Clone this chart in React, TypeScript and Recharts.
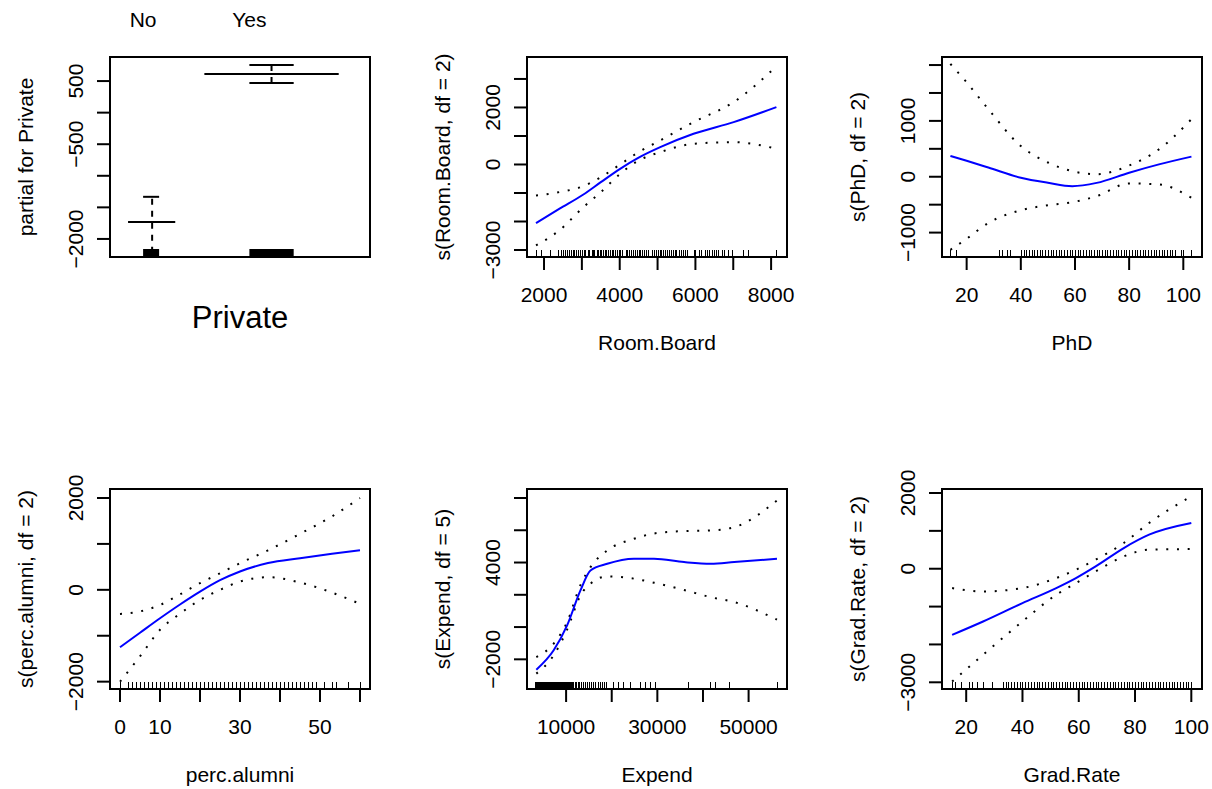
import React from "react";
import { ComposedChart, Line, Scatter, XAxis, YAxis, ReferenceArea } from "recharts";

const FONT = '"Liberation Sans", Arial, Helvetica, sans-serif';
const BLUE = "#0000FF";

// ---- Private (factor term) ----
const privLevels = ["No", "Yes"];
const privLevelPos = [0.135, 0.631];
const privLabelPos = [0.0975, 0.539];
const privFit = [-1730, 611];
const privUpper = [-1333, 754];
const privLower = [-2600, 468];
const privFitSpan = [[0.035, 0.231], [0.352, 0.91]];
const privSeSpan = [[0.0975, 0.164], [0.539, 0.723]];
const privYTicks = [-2000, -1500, -1000, -500, 0, 500];
const privYLabels = [-2000, -500, 500];

// ---- Room.Board ----
const rbX = [1788, 2400, 3040, 3500, 4010, 4500, 5070, 5950, 7010, 8140];
const rbFit = [-2060, -1560, -1053, -620, -152, 240, 608, 1076, 1486, 2012];
const rbUpper = [-1090, -970, -760, -445, 0, 433, 842, 1486, 2187, 3440];
const rbLower = [-2840, -2316, -1497, -971, -327, 140, 433, 725, 784, 550];
const rbRug = [1780, 1920, 2170, 2370, 2460, 2510, 2550, 2610, 2660, 2700, 2760, 2800, 2850, 2910, 2950, 3000, 3060, 3090, 3150, 3200, 3260, 3300, 3330, 3390, 3420, 3470, 3500, 3560, 3600, 3640, 3700, 3740, 3790, 3830, 3880, 3920, 3970, 4000, 4050, 4160, 4200, 4240, 4300, 4350, 4400, 4460, 4500, 4540, 4600, 4650, 4700, 4740, 4860, 4900, 4950, 5000, 5060, 5100, 5150, 5200, 5250, 5310, 5350, 5400, 5450, 5500, 5560, 5620, 5680, 5720, 5780, 5960, 6000, 6100, 6150, 6250, 6300, 6350, 6450, 6500, 6550, 6600, 6700, 6750, 6850, 6970, 7270, 7400, 8120];
const rbXTicks = [2000, 3000, 4000, 5000, 6000, 7000, 8000];
const rbXLabels = [2000, 4000, 6000, 8000];
const rbYTicks = [-3000, -2000, -1000, 0, 1000, 2000, 3000];
const rbYLabels = [-3000, 0, 2000];

// ---- PhD ----
const phdX = [14, 20, 28, 40, 50, 59, 68, 80, 91, 103];
const phdFit = [371, 285, 165, -18, -108, -169, -110, 72, 221, 360];
const phdUpper = [2020, 1690, 1210, 550, 255, 100, 45, 200, 490, 1030];
const phdLower = [-1308, -1110, -828, -600, -510, -456, -348, -120, -138, -378];
const phdRug = [14, 16, 32, 33, 35, 36, 40, 41, 42, 43, 44, 45, 46, 47, 48, 49, 50, 51, 52, 53, 54, 55, 56, 57, 58, 59, 60, 61, 62, 63, 64, 65, 66, 67, 68, 69, 70, 71, 72, 73, 74, 75, 76, 77, 78, 79, 80, 81, 82, 83, 84, 85, 86, 87, 88, 89, 90, 91, 92, 93, 94, 95, 96, 97, 99, 100, 103];
const phdXTicks = [20, 40, 60, 80, 100];
const phdYTicks = [-1000, -500, 0, 500, 1000, 1500, 2000];
const phdYLabels = [-1000, 0, 1000];

// ---- perc.alumni ----
const paX = [0, 5, 10, 15, 20, 25, 30, 37, 45, 53, 60];
const paFit = [-1250, -935, -620, -320, -40, 210, 400, 585, 690, 785, 860];
const paUpper = [-525, -470, -330, -100, 145, 360, 580, 860, 1220, 1600, 2000];
const paLower = [-2000, -1450, -870, -520, -220, 0, 180, 275, 160, -60, -305];
const paRug = [0, 2, 3, 4, 5, 6, 7, 8, 9, 10, 11, 12, 13, 14, 15, 16, 17, 18, 19, 20, 21, 22, 23, 24, 25, 26, 27, 28, 29, 30, 31, 32, 33, 34, 35, 36, 37, 38, 39, 40, 41, 42, 43, 44, 45, 46, 47, 48, 49, 51, 53, 54, 57, 60];
const paXTicks = [0, 10, 20, 30, 40, 50, 60];
const paXLabels = [0, 10, 30, 50];
const paYTicks = [-2000, -1000, 0, 1000, 2000];
const paYLabels = [-2000, 0, 2000];

// ---- Expend ----
const exX = [3473, 7275, 10220, 13143, 15341, 19011, 24862, 29260, 35853, 41714, 46842, 56220];
const exFit = [-2640, -1440, 105, 2270, 3510, 3920, 4235, 4235, 4025, 3920, 4025, 4235];
const exUpper = [-1860, -1030, 310, 2600, 3715, 4750, 5470, 5800, 5950, 5990, 6190, 7850];
const exLower = [-2885, -1750, -160, 1960, 2690, 3140, 3000, 2750, 2300, 1850, 1550, 460];
const exRug = [3186, 3350, 3500, 3700, 3900, 4050, 4200, 4350, 4500, 4650, 4800, 4950, 5100, 5250, 5400, 5550, 5700, 5850, 6000, 6150, 6300, 6450, 6600, 6750, 6900, 7050, 7200, 7350, 7500, 7650, 7800, 7950, 8100, 8250, 8400, 8550, 8700, 8850, 9000, 9200, 9400, 9600, 9800, 10000, 10200, 10400, 10600, 10800, 11000, 11300, 11600, 11900, 12200, 12500, 12900, 13300, 13700, 14100, 14600, 15000, 15500, 16000, 16400, 17000, 17500, 17900, 18300, 18700, 20330, 21430, 22530, 23990, 26190, 27290, 28390, 29490, 36810, 41580, 42670, 45600, 56230];
const exXTicks = [10000, 20000, 30000, 40000, 50000];
const exXLabels = [10000, 30000, 50000];
const exYTicks = [-2000, 0, 2000, 4000, 6000, 8000];
const exYLabels = [-2000, 4000];

// ---- Grad.Rate ----
const grX = [15, 26, 40, 52, 59, 66, 76, 85, 100];
const grFit = [-1746, -1393, -907, -511, -247, 62, 547, 899, 1208];
const grUpper = [-511, -600, -511, -247, -26, 238, 680, 1208, 1913];
const grLower = [-2981, -2275, -1393, -688, -379, -71, 326, 503, 520];
const grRug = [15, 16, 18, 21, 22, 24, 26, 29, 33, 34, 35, 36, 37, 38, 39, 40, 41, 42, 43, 44, 45, 46, 47, 48, 49, 50, 51, 52, 53, 54, 55, 56, 57, 58, 59, 60, 61, 62, 63, 64, 65, 66, 67, 68, 69, 70, 71, 72, 73, 74, 75, 76, 77, 78, 79, 80, 81, 82, 83, 84, 85, 86, 87, 88, 89, 90, 91, 92, 93, 94, 95, 96, 97, 98, 99, 100];
const grXTicks = [20, 40, 60, 80, 100];
const grYTicks = [-3000, -2000, -1000, 0, 1000, 2000];
const grYLabels = [-3000, 0, 2000];

const BOX_W = 260;
const BOX_H = 200;
const AXIS_W = 110;
const AXIS_H = 100;
const TOP = 40;
const RIGHT = 10;

const fmt = (v: number) => (v < 0 ? "\u2212" + Math.abs(v) : String(v));

const makeXTick = (labels: number[]) => (props: any) => {
  const { x, y, payload } = props;
  if (!labels.includes(payload.value)) return <g />;
  return (
    <text x={x} y={y + 32} textAnchor="middle" fontSize={21} fill="#000" fontFamily={FONT}>
      {fmt(payload.value)}
    </text>
  );
};

const makeYTick = (labels: number[]) => (props: any) => {
  const { x, y, payload } = props;
  if (!labels.includes(payload.value)) return <g />;
  const bx = x - 14;
  return (
    <text x={bx} y={y} transform={`rotate(-90 ${bx} ${y})`} textAnchor="middle" fontSize={21} fill="#000" fontFamily={FONT}>
      {fmt(payload.value)}
    </text>
  );
};

const xTitle = (text: string, size = 21, dy = 93) => (props: any) => {
  const vb = props.viewBox || {};
  return (
    <text x={vb.x + vb.width / 2} y={vb.y + dy} textAnchor="middle" fontSize={size} fill="#000" fontFamily={FONT}>
      {text}
    </text>
  );
};

const yTitle = (text: string) => (props: any) => {
  const vb = props.viewBox || {};
  const x = vb.x + vb.width - 77;
  const y = vb.y + vb.height / 2;
  return (
    <text x={x} y={y} transform={`rotate(-90 ${x} ${y})`} textAnchor="middle" fontSize={21} fill="#000" fontFamily={FONT}>
      {text}
    </text>
  );
};

const RugTick = (p: any) => (
  <line
    x1={Math.round(p.cx) + 0.5}
    x2={Math.round(p.cx) + 0.5}
    y1={p.cy}
    y2={p.cy - 7}
    stroke="#000"
    strokeWidth={1}
    shapeRendering="crispEdges"
  />
);

const tickLine = { stroke: "#000", strokeWidth: 2 };

type SmoothProps = {
  left: number;
  top: number;
  xDomain: number[];
  yDomain: number[];
  xTicks: number[];
  xLabels: number[];
  yTicks: number[];
  yLabels: number[];
  xs: number[];
  fit: number[];
  upper: number[];
  lower: number[];
  rug: number[];
  xName: string;
  yName: string;
};

function SmoothPanel(p: SmoothProps) {
  const fitData = p.xs.map((x, i) => ({ x, y: p.fit[i] }));
  const upData = p.xs.map((x, i) => ({ x, y: p.upper[i] }));
  const loData = p.xs.map((x, i) => ({ x, y: p.lower[i] }));
  const rugData = p.rug.map((x) => ({ x, y: p.yDomain[0] }));
  return (
    <div style={{ position: "absolute", left: p.left - AXIS_W, top: p.top - TOP }}>
      <ComposedChart
        width={BOX_W + AXIS_W + RIGHT}
        height={BOX_H + TOP + AXIS_H}
        margin={{ top: TOP, right: RIGHT, bottom: 0, left: 0 }}
      >
        <XAxis
          dataKey="x"
          type="number"
          domain={p.xDomain}
          ticks={p.xTicks}
          interval={0}
          allowDataOverflow
          height={AXIS_H}
          tickSize={13}
          tickMargin={0}
          axisLine={false}
          tickLine={tickLine}
          tick={makeXTick(p.xLabels)}
          label={xTitle(p.xName)}
        />
        <YAxis
          dataKey="y"
          type="number"
          domain={p.yDomain}
          ticks={p.yTicks}
          interval={0}
          allowDataOverflow
          width={AXIS_W}
          tickSize={13}
          tickMargin={0}
          axisLine={false}
          tickLine={tickLine}
          tick={makeYTick(p.yLabels)}
          label={yTitle(p.yName)}
        />
        <ReferenceArea
          x1={p.xDomain[0]}
          x2={p.xDomain[1]}
          y1={p.yDomain[0]}
          y2={p.yDomain[1]}
          fill="none"
          stroke="#000"
          strokeWidth={2}
          ifOverflow="visible"
        />
        <Scatter data={rugData} shape={RugTick} isAnimationActive={false} />
        <Line data={upData} dataKey="y" type="monotone" stroke="#000" strokeWidth={2} strokeDasharray="2 8.7" dot={false} isAnimationActive={false} />
        <Line data={loData} dataKey="y" type="monotone" stroke="#000" strokeWidth={2} strokeDasharray="2 8.7" dot={false} isAnimationActive={false} />
        <Line data={fitData} dataKey="y" type="monotone" stroke={BLUE} strokeWidth={2} dot={false} isAnimationActive={false} />
      </ComposedChart>
    </div>
  );
}

function PrivatePanel() {
  const xDomain = [-0.04, 1.04];
  const yDomain = [-2286, 881];
  const rugTop = yDomain[0] + (yDomain[1] - yDomain[0]) * 0.04;
  const LevelTick = (props: any) => {
    const idx = privLabelPos.indexOf(props.payload.value);
    return (
      <text x={props.x} y={props.y - 30} textAnchor="middle" fontSize={21} fill="#000" fontFamily={FONT}>
        {privLevels[idx] ?? ""}
      </text>
    );
  };
  return (
    <div style={{ position: "absolute", left: 110 - AXIS_W, top: 57 - 60 }}>
      <ComposedChart
        width={BOX_W + AXIS_W + RIGHT}
        height={BOX_H + 60 + AXIS_H}
        margin={{ top: 30, right: RIGHT, bottom: 0, left: 0 }}
      >
        <XAxis
          xAxisId="top"
          orientation="top"
          dataKey="x"
          type="number"
          domain={xDomain}
          ticks={privLabelPos}
          interval={0}
          allowDataOverflow
          height={30}
          tickSize={0}
          tickMargin={0}
          axisLine={false}
          tickLine={false}
          tick={LevelTick}
        />
        <XAxis
          dataKey="x"
          type="number"
          domain={xDomain}
          allowDataOverflow
          height={AXIS_H}
          axisLine={false}
          tickLine={false}
          tick={false}
          label={xTitle("Private", 31, 71)}
        />
        <YAxis
          dataKey="y"
          type="number"
          domain={yDomain}
          ticks={privYTicks}
          interval={0}
          allowDataOverflow
          width={AXIS_W}
          tickSize={13}
          tickMargin={0}
          axisLine={false}
          tickLine={tickLine}
          tick={makeYTick(privYLabels)}
          label={yTitle("partial for Private")}
        />
        <ReferenceArea x1={xDomain[0]} x2={xDomain[1]} y1={yDomain[0]} y2={yDomain[1]} fill="none" stroke="#000" strokeWidth={2} ifOverflow="visible" />
        {privLevels.map((lv, i) => (
          <ReferenceArea key={`rug-${lv}`} x1={privSeSpan[i][0]} x2={privSeSpan[i][1]} y1={yDomain[0]} y2={rugTop} fill="#000" fillOpacity={1} stroke="none" />
        ))}
        {privLevels.map((lv, i) => (
          <Line
            key={`v-${lv}`}
            data={[{ x: privLevelPos[i], y: privLower[i] }, { x: privLevelPos[i], y: privUpper[i] }]}
            dataKey="y"
            type="linear"
            stroke="#000"
            strokeWidth={2}
            strokeDasharray="6 6"
            dot={false}
            isAnimationActive={false}
          />
        ))}
        {privLevels.map((lv, i) => (
          <Line
            key={`f-${lv}`}
            data={[{ x: privFitSpan[i][0], y: privFit[i] }, { x: privFitSpan[i][1], y: privFit[i] }]}
            dataKey="y"
            type="linear"
            stroke="#000"
            strokeWidth={2}
            dot={false}
            isAnimationActive={false}
          />
        ))}
        {privLevels.map((lv, i) => (
          <Line
            key={`u-${lv}`}
            data={[{ x: privSeSpan[i][0], y: privUpper[i] }, { x: privSeSpan[i][1], y: privUpper[i] }]}
            dataKey="y"
            type="linear"
            stroke="#000"
            strokeWidth={2}
            dot={false}
            isAnimationActive={false}
          />
        ))}
        {privLevels.map((lv, i) => (
          <Line
            key={`l-${lv}`}
            data={[{ x: privSeSpan[i][0], y: privLower[i] }, { x: privSeSpan[i][1], y: privLower[i] }]}
            dataKey="y"
            type="linear"
            stroke="#000"
            strokeWidth={2}
            dot={false}
            isAnimationActive={false}
          />
        ))}
      </ComposedChart>
    </div>
  );
}

export default function App() {
  return (
    <div
      style={{
        position: "absolute",
        left: 0,
        top: 0,
        width: 1212,
        height: 789,
        background: "#fff",
        fontFamily: FONT,
        overflow: "hidden",
      }}
    >
      <PrivatePanel />
      <SmoothPanel
        left={527} top={57}
        xDomain={[1550, 8420]} yDomain={[-3245, 3770]}
        xTicks={rbXTicks} xLabels={rbXLabels} yTicks={rbYTicks} yLabels={rbYLabels}
        xs={rbX} fit={rbFit} upper={rbUpper} lower={rbLower} rug={rbRug}
        xName="Room.Board" yName="s(Room.Board, df = 2)"
      />
      <SmoothPanel
        left={942} top={57}
        xDomain={[10.9, 106.9]} yDomain={[-1437, 2144]}
        xTicks={phdXTicks} xLabels={phdXTicks} yTicks={phdYTicks} yLabels={phdYLabels}
        xs={phdX} fit={phdFit} upper={phdUpper} lower={phdLower} rug={phdRug}
        xName="PhD" yName="s(PhD, df = 2)"
      />
      <SmoothPanel
        left={110} top={489}
        xDomain={[-2.5, 62.5]} yDomain={[-2160, 2196]}
        xTicks={paXTicks} xLabels={paXLabels} yTicks={paYTicks} yLabels={paYLabels}
        xs={paX} fit={paFit} upper={paUpper} lower={paLower} rug={paRug}
        xName="perc.alumni" yName="s(perc.alumni, df = 2)"
      />
      <SmoothPanel
        left={527} top={489}
        xDomain={[1429, 58418]} yDomain={[-3839, 8557]}
        xTicks={exXTicks} xLabels={exXLabels} yTicks={exYTicks} yLabels={exYLabels}
        xs={exX} fit={exFit} upper={exUpper} lower={exLower} rug={exRug}
        xName="Expend" yName="s(Expend, df = 5)"
      />
      <SmoothPanel
        left={942} top={489}
        xDomain={[11.4, 103.8]} yDomain={[-3177, 2106]}
        xTicks={grXTicks} xLabels={grXTicks} yTicks={grYTicks} yLabels={grYLabels}
        xs={grX} fit={grFit} upper={grUpper} lower={grLower} rug={grRug}
        xName="Grad.Rate" yName="s(Grad.Rate, df = 2)"
      />
    </div>
  );
}
